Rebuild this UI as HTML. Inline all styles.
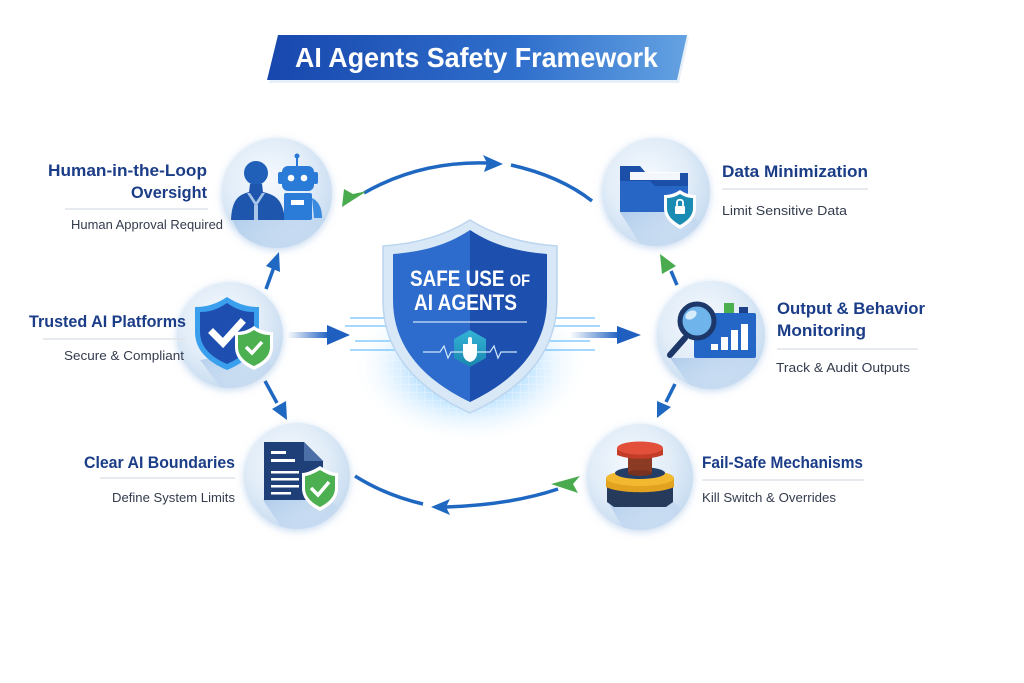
<!DOCTYPE html>
<html>
<head>
<meta charset="utf-8">
<style>
html,body{margin:0;padding:0;background:#ffffff;}
svg{display:block;}
.h{font-family:"Liberation Sans",sans-serif;font-weight:bold;fill:#1b3d88;font-size:17px;}
.s{font-family:"Liberation Sans",sans-serif;fill:#333b4d;font-size:13px;}
</style>
</head>
<body>
<svg width="1024" height="683" viewBox="0 0 1024 683" xmlns="http://www.w3.org/2000/svg">
<defs>
  <linearGradient id="ban" x1="0" y1="0" x2="1" y2="0">
    <stop offset="0" stop-color="#1847ad"/>
    <stop offset="0.6" stop-color="#2f6fcc"/>
    <stop offset="1" stop-color="#64a2e2"/>
  </linearGradient>
  <radialGradient id="cir" cx="0.42" cy="0.38" r="0.62">
    <stop offset="0" stop-color="#f5f9fe"/>
    <stop offset="0.6" stop-color="#e2edf8"/>
    <stop offset="1" stop-color="#c9ddf1"/>
  </radialGradient>
  <linearGradient id="lsh" x1="0" y1="0" x2="1" y2="1">
    <stop offset="0" stop-color="#aac8ea" stop-opacity="0.9"/>
    <stop offset="1" stop-color="#d6e6f6" stop-opacity="0"/>
  </linearGradient>
  <filter id="glow" x="-30%" y="-30%" width="160%" height="160%">
    <feDropShadow dx="0" dy="2" stdDeviation="4" flood-color="#9fc0e6" flood-opacity="0.6"/>
  </filter>
  <radialGradient id="cglow" cx="0.5" cy="0.5" r="0.5">
    <stop offset="0" stop-color="#3aa6ff" stop-opacity="0.85"/>
    <stop offset="0.5" stop-color="#8fcfff" stop-opacity="0.5"/>
    <stop offset="1" stop-color="#ffffff" stop-opacity="0"/>
  </radialGradient>
  <linearGradient id="tailR" x1="0" y1="0" x2="1" y2="0">
    <stop offset="0" stop-color="#1e5fc0" stop-opacity="0"/>
    <stop offset="1" stop-color="#1e5fc0"/>
  </linearGradient>
  <linearGradient id="hex" x1="0" y1="0" x2="0" y2="1">
    <stop offset="0" stop-color="#35b4d8"/>
    <stop offset="1" stop-color="#1a86ae"/>
  </linearGradient>
  <pattern id="grid" width="8" height="8" patternUnits="userSpaceOnUse">
    <path d="M8 0 L0 0 0 8" fill="none" stroke="#ffffff" stroke-width="1.2" opacity="0.9"/>
  </pattern>
  <radialGradient id="gridmask" cx="0.5" cy="0.25" r="0.6">
    <stop offset="0" stop-color="#fff"/>
    <stop offset="1" stop-color="#000"/>
  </radialGradient>
  <mask id="gm"><rect x="360" y="340" width="220" height="110" fill="url(#gridmask)"/></mask>
  <clipPath id="c1"><circle cx="277" cy="193" r="55"/></clipPath>
  <clipPath id="c2"><circle cx="230" cy="335" r="53"/></clipPath>
  <clipPath id="c3"><circle cx="297" cy="476" r="53"/></clipPath>
  <clipPath id="c4"><circle cx="656" cy="192" r="54"/></clipPath>
  <clipPath id="c5"><circle cx="711" cy="335" r="54"/></clipPath>
  <clipPath id="c6"><circle cx="640" cy="477" r="53"/></clipPath>
</defs>

<!-- Title banner -->
<polygon points="280,37 689,37 679,83 269,83" fill="#c9dbef" opacity="0.45"/>
<polygon points="278,35 687,35 677,80 267,80" fill="url(#ban)"/>
<text x="295" y="67" font-family="Liberation Sans, sans-serif" font-weight="bold" font-size="28" fill="#ffffff" textLength="363" lengthAdjust="spacingAndGlyphs">AI Agents Safety Framework</text>

<!-- Circles -->
<g filter="url(#glow)">
  <circle cx="277" cy="193" r="55" fill="url(#cir)"/>
  <circle cx="230" cy="335" r="53" fill="url(#cir)"/>
  <circle cx="297" cy="476" r="53" fill="url(#cir)"/>
  <circle cx="656" cy="192" r="54" fill="url(#cir)"/>
  <circle cx="711" cy="335" r="54" fill="url(#cir)"/>
  <circle cx="640" cy="477" r="53" fill="url(#cir)"/>
</g>
<!-- long shadows -->
<polygon clip-path="url(#c1)" points="232,220 322,215 360,260 260,270" fill="url(#lsh)"/>
<polygon clip-path="url(#c2)" points="200,360 258,350 300,400 230,400" fill="url(#lsh)"/>
<polygon clip-path="url(#c3)" points="263,500 330,500 370,540 290,540" fill="url(#lsh)"/>
<polygon clip-path="url(#c4)" points="620,212 690,212 730,260 650,260" fill="url(#lsh)"/>
<polygon clip-path="url(#c5)" points="670,358 756,358 790,400 700,400" fill="url(#lsh)"/>
<polygon clip-path="url(#c6)" points="607,500 672,500 710,540 630,540" fill="url(#lsh)"/>

<!-- Icon 1: human + robot -->
<g>
  <circle cx="256" cy="173" r="12" fill="#2060b8"/>
  <path d="M250,184 L262,184 L263,192 C276,195 283,200 285,220 L231,220 C232,200 238,195 249,192 Z" fill="#1f56ad"/>
  <path d="M247,193 L256,207 L265,193 L262,193 L256,202 L250,193 Z" fill="#a9c6e8"/>
  <rect x="254" y="205" width="4" height="15" fill="#a9c6e8"/>
  <line x1="297" y1="157" x2="297" y2="166" stroke="#2a78d6" stroke-width="2"/>
  <circle cx="297" cy="156" r="2.5" fill="#2a78d6"/>
  <rect x="282" y="166" width="32" height="25" rx="6" fill="#2a7ad8"/>
  <rect x="278" y="172" width="5" height="12" rx="2" fill="#2a7ad8"/>
  <rect x="313" y="172" width="5" height="12" rx="2" fill="#2a7ad8"/>
  <circle cx="291" cy="178" r="3.3" fill="#ffffff"/>
  <circle cx="304" cy="178" r="3.3" fill="#ffffff"/>
  <rect x="284" y="193" width="28" height="27" rx="2" fill="#2b7bd9"/>
  <rect x="291" y="200" width="13" height="5" fill="#ffffff"/>
  <path d="M312,198 C320,202 322,210 322,218 L314,218 Z" fill="#3a8ae0"/>
</g>

<!-- Icon 2: shield with checks -->
<g>
  <path d="M227,297 C215,305 205,307 195,307 L195,332 C195,350 208,362 227,370 C246,362 259,350 259,332 L259,307 C249,307 239,305 227,297 Z" fill="#3aa0ee"/>
  <path d="M227,303 C217,310 209,312 200,312 L200,332 C200,347 211,357 227,364 C243,357 254,347 254,332 L254,312 C245,312 237,310 227,303 Z" fill="#1e4fb0"/>
  <path d="M213,333 L223,343 L241,323" fill="none" stroke="#ffffff" stroke-width="7" stroke-linecap="square"/>
  <path d="M254,326 C247,331 241,332 235,332 L235,347 C235,358 243,365 254,370 C265,365 273,358 273,347 L273,332 C267,332 261,331 254,326 Z" fill="#ffffff"/>
  <path d="M254,330 C248,334 243,335 238,335 L238,347 C238,356 245,362 254,366 C263,362 270,356 270,347 L270,335 C265,335 260,334 254,330 Z" fill="#4caf50"/>
  <path d="M246,347 L252,353 L262,342" fill="none" stroke="#ffffff" stroke-width="3.5"/>
</g>

<!-- Icon 3: document with check -->
<g>
  <path d="M264,442 L304,442 L323,461 L323,500 L264,500 Z" fill="#1f3f78"/>
  <path d="M304,442 L304,461 L323,461 Z" fill="#4d6fa8"/>
  <rect x="271" y="451" width="15" height="3" fill="#ffffff"/>
  <rect x="271" y="459" width="24" height="3" fill="#ffffff"/>
  <rect x="271" y="471" width="28" height="2.5" fill="#ffffff"/>
  <rect x="271" y="478" width="28" height="2.5" fill="#ffffff"/>
  <rect x="271" y="485" width="28" height="2.5" fill="#ffffff"/>
  <rect x="271" y="492" width="20" height="2.5" fill="#ffffff"/>
  <path d="M320,466 C312,471 306,473 302,473 L302,488 C302,499 310,506 320,511 C330,506 338,499 338,488 L338,473 C333,473 328,471 320,466 Z" fill="#ffffff"/>
  <path d="M320,470 C313,474 308,476 305,476 L305,488 C305,497 312,503 320,507 C328,503 335,497 335,488 L335,476 C331,476 327,474 320,470 Z" fill="#4caf50"/>
  <path d="M311,488 L318,495 L329,482" fill="none" stroke="#ffffff" stroke-width="3.5"/>
</g>

<!-- Icon 4: folder with lock shield -->
<g>
  <path d="M620,166 L640,166 L646,173 L688,173 L688,212 L620,212 Z" fill="#1c4fa8"/>
  <path d="M630,172 L680,172 L680,180 L630,180 Z" fill="#ffffff" opacity="0.95"/>
  <path d="M620,181 L650,181 L655,186 L688,186 L688,212 L620,212 Z" fill="#2766c4"/>
  <path d="M680,190 C674,194 669,195 664,195 L664,208 C664,218 671,224 680,229 C689,224 696,218 696,208 L696,195 C691,195 686,194 680,190 Z" fill="#ffffff"/>
  <path d="M680,194 C675,197 671,198 667,198 L667,208 C667,216 673,221 680,225 C687,221 693,216 693,208 L693,198 C689,198 685,197 680,194 Z" fill="#1a8cb4"/>
  <rect x="675" y="206" width="10" height="8" rx="1" fill="#ffffff"/>
  <path d="M677,206 L677,202 C677,199 683,199 683,202 L683,206" fill="none" stroke="#ffffff" stroke-width="1.8"/>
</g>

<!-- Icon 5: magnifier + chart -->
<g>
  <rect x="694" y="313" width="62" height="45" rx="2" fill="#2366c6"/>
  <rect x="724" y="303" width="10" height="10" fill="#4caf50"/>
  <rect x="739" y="307" width="9" height="6" fill="#1c3f8a"/>
  <rect x="711" y="344" width="7" height="6" fill="#ffffff"/>
  <rect x="721" y="337" width="7" height="13" fill="#ffffff"/>
  <rect x="731" y="330" width="7" height="20" fill="#ffffff"/>
  <rect x="741" y="324" width="7" height="26" fill="#ffffff"/>
  <line x1="685" y1="338" x2="670" y2="355" stroke="#1c3768" stroke-width="6" stroke-linecap="round"/>
  <circle cx="697" cy="321" r="17" fill="#6fb4ea" stroke="#1c3768" stroke-width="5"/>
  <ellipse cx="691" cy="315" rx="6" ry="4" fill="#d7ecfb" transform="rotate(-30 691 315)"/>
</g>

<!-- Icon 6: red button -->
<g>
  <path d="M607,484 L673,484 L673,502 L666,507 L614,507 L607,502 Z" fill="#263a5c"/>
  <path d="M606,478 L674,478 L674,487 C660,494 620,494 606,487 Z" fill="#e3a21f"/>
  <ellipse cx="640" cy="478" rx="34" ry="8" fill="#f2b82f"/>
  <ellipse cx="640" cy="473" rx="25" ry="6" fill="#233e66"/>
  <rect x="628" y="455" width="24" height="18" fill="#8b3a24"/>
  <ellipse cx="640" cy="473" rx="12" ry="3" fill="#7a3220"/>
  <path d="M617,448 L663,448 L663,455 C650,460 630,460 617,455 Z" fill="#c33c28"/>
  <ellipse cx="640" cy="448" rx="23" ry="6.5" fill="#e2503a"/>
</g>

<!-- Center glow & shield -->
<ellipse cx="470" cy="365" rx="120" ry="80" fill="url(#cglow)"/>
<rect x="360" y="340" width="220" height="110" fill="url(#grid)" mask="url(#gm)"/>
<g stroke="#5fbaff" stroke-width="1.3" opacity="0.9">
  <line x1="350" y1="318" x2="395" y2="318"/>
  <line x1="345" y1="326" x2="395" y2="326"/>
  <line x1="355" y1="341" x2="395" y2="341"/>
  <line x1="350" y1="350" x2="395" y2="350"/>
  <line x1="545" y1="318" x2="595" y2="318"/>
  <line x1="545" y1="326" x2="600" y2="326"/>
  <line x1="545" y1="341" x2="590" y2="341"/>
  <line x1="545" y1="350" x2="595" y2="350"/>
</g>
<path d="M470,220 C443,237 413,244 383,246 L383,300 C383,355 420,390 470,413 C520,390 557,355 557,300 L557,246 C527,244 497,237 470,220 Z" fill="#d9e8f7" stroke="#bcd5ef" stroke-width="1.5"/>
<path d="M470,230 C446,246 420,252 393,254 L393,300 C393,350 428,382 470,402 L470,230 Z" fill="#2d6ccc"/>
<path d="M470,230 C494,246 520,252 547,254 L547,300 C547,350 512,382 470,402 L470,230 Z" fill="#1d4faf"/>
<text x="410" y="286" font-family="Liberation Sans, sans-serif" font-weight="bold" font-size="22" fill="#ffffff" textLength="120" lengthAdjust="spacingAndGlyphs">SAFE USE <tspan font-size="17">OF</tspan></text>
<text x="414" y="310" font-family="Liberation Sans, sans-serif" font-weight="bold" font-size="22" fill="#ffffff" textLength="103" lengthAdjust="spacingAndGlyphs">AI AGENTS</text>
<line x1="413" y1="322" x2="527" y2="322" stroke="#cfe2f8" stroke-width="1.3"/>
<polygon points="470,330 486,339 486,358 470,367 454,358 454,339" fill="url(#hex)"/>
<polyline points="423,352 440,352 444,346 448,358 451,352 490,352 494,346 498,358 501,352 517,352" fill="none" stroke="#cfe6fa" stroke-width="1.2"/>
<path d="M463,344 L477,344 L477,353 C477,358 474,361 470,362 C466,361 463,358 463,353 Z" fill="#ffffff"/>
<rect x="468" y="337" width="4" height="9" rx="2" fill="#ffffff"/>

<!-- Connectors -->
<g fill="none" stroke="#1e68c2" stroke-width="3.5">
  <path d="M364,193 Q420,161 487,163"/>
  <path d="M511,165 Q560,176 592,201"/>
  <path d="M355,476 Q385,495 423,504"/>
  <path d="M446,507 Q510,505 558,489"/>
  <line x1="266" y1="289" x2="274" y2="267"/>
  <line x1="265" y1="381" x2="277" y2="403"/>
  <line x1="677" y1="285" x2="671" y2="271"/>
  <line x1="675" y1="384" x2="666" y2="402"/>
</g>
<rect x="287" y="332" width="42" height="6" fill="url(#tailR)"/>
<polygon points="350,335 327,325 327,345" fill="#1e5fc0"/>
<rect x="570" y="332" width="50" height="6" fill="url(#tailR)"/>
<polygon points="641,335 617,326 617,344" fill="#1e5fc0"/>
<polygon points="503,164 483,155 487,163 484,172" fill="#1e68c2"/>
<polygon points="431,507 450,499 446,507 450,515" fill="#1e68c2"/>
<polygon points="342,207 344,189 353,194 367,191" fill="#4aaa4e"/>
<polygon points="551,484 580,476 573,484 578,493" fill="#4aaa4e"/>
<polygon points="279,252 280,272 266,266" fill="#1e68c2"/>
<polygon points="287,420 286,401 272,409" fill="#1e68c2"/>
<polygon points="660,254 676,266 662,274" fill="#4aaa4e"/>
<polygon points="657,418 671,407 657,401" fill="#1e68c2"/>

<!-- Left labels -->
<text class="h" x="48" y="176" textLength="159" lengthAdjust="spacingAndGlyphs">Human-in-the-Loop</text>
<text class="h" x="131" y="198" textLength="76" lengthAdjust="spacingAndGlyphs">Oversight</text>
<line x1="65" y1="209" x2="208" y2="209" stroke="#dfe3ea" stroke-width="1.5"/>
<text class="s" x="71" y="229" textLength="152" lengthAdjust="spacingAndGlyphs">Human Approval Required</text>

<text class="h" x="29" y="327" textLength="157" lengthAdjust="spacingAndGlyphs">Trusted AI Platforms</text>
<line x1="43" y1="339" x2="185" y2="339" stroke="#dfe3ea" stroke-width="1.5"/>
<text class="s" x="64" y="360" textLength="120" lengthAdjust="spacingAndGlyphs">Secure &amp; Compliant</text>

<text class="h" x="84" y="468" textLength="151" lengthAdjust="spacingAndGlyphs">Clear AI Boundaries</text>
<line x1="100" y1="478" x2="235" y2="478" stroke="#dfe3ea" stroke-width="1.5"/>
<text class="s" x="112" y="502" textLength="123" lengthAdjust="spacingAndGlyphs">Define System Limits</text>

<!-- Right labels -->
<text class="h" x="722" y="177" textLength="146" lengthAdjust="spacingAndGlyphs">Data Minimization</text>
<line x1="722" y1="189" x2="868" y2="189" stroke="#dfe3ea" stroke-width="1.5"/>
<text class="s" x="722" y="215" textLength="125" lengthAdjust="spacingAndGlyphs">Limit Sensitive Data</text>

<text class="h" x="777" y="314" textLength="148" lengthAdjust="spacingAndGlyphs">Output &amp; Behavior</text>
<text class="h" x="777" y="336" textLength="89" lengthAdjust="spacingAndGlyphs">Monitoring</text>
<line x1="777" y1="349" x2="918" y2="349" stroke="#dfe3ea" stroke-width="1.5"/>
<text class="s" x="776" y="372" textLength="134" lengthAdjust="spacingAndGlyphs">Track &amp; Audit Outputs</text>

<text class="h" x="702" y="468" textLength="161" lengthAdjust="spacingAndGlyphs">Fail-Safe Mechanisms</text>
<line x1="702" y1="480" x2="864" y2="480" stroke="#dfe3ea" stroke-width="1.5"/>
<text class="s" x="702" y="502" textLength="134" lengthAdjust="spacingAndGlyphs">Kill Switch &amp; Overrides</text>
</svg>
</body>
</html>
